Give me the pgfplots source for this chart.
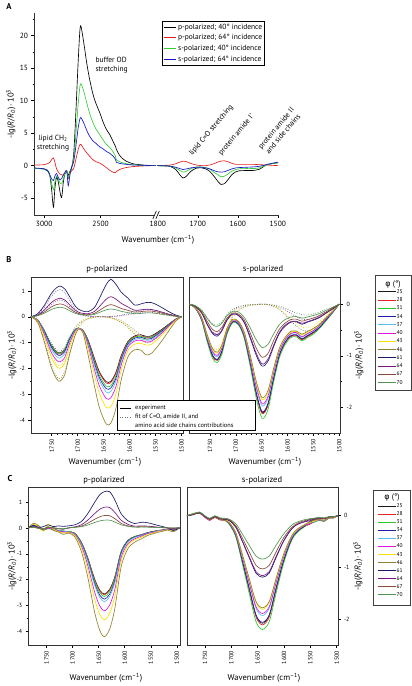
\documentclass[border=0pt]{standalone}
\usepackage{pgfplots}
\pgfplotsset{compat=1.18}
\usepackage{pgfplotstable}
\usepackage{fontspec}
\setmainfont{PT Sans}
\newfontfamily\grk{DejaVu Sans}

\definecolor{c25}{RGB}{25,25,25}
\definecolor{c28}{RGB}{230,35,35}
\definecolor{c31}{RGB}{40,200,40}
\definecolor{c34}{RGB}{30,30,170}
\definecolor{c37}{RGB}{90,190,240}
\definecolor{c40}{RGB}{225,20,225}
\definecolor{c43}{RGB}{250,225,0}
\definecolor{c46}{RGB}{145,130,45}
\definecolor{c61}{RGB}{25,25,105}
\definecolor{c64}{RGB}{120,20,130}
\definecolor{c67}{RGB}{135,75,55}
\definecolor{c70}{RGB}{80,150,80}
\definecolor{aR}{RGB}{225,30,30}
\definecolor{aG}{RGB}{50,205,50}
\definecolor{aB}{RGB}{20,20,200}

% Panel A, left segment
\pgfplotstableread{
wn bk rd gr bl
3088 -0.40 0.10 -0.40 -0.35
3050 -0.45 0.10 -0.45 -0.40
3000 -0.50 0.15 -0.55 -0.50
2970 -0.70 0.30 -0.80 -0.80
2950 -1.50 0.50 -1.50 -1.40
2935 -3.50 0.90 -2.60 -2.00
2918 -6.40 1.20 -3.70 -2.30
2905 -3.50 0.50 -2.50 -1.60
2890 -1.80 -0.50 -1.60 -1.20
2875 -2.50 -1.00 -2.00 -1.80
2860 -4.00 -1.30 -2.70 -2.20
2845 -4.90 -1.40 -2.80 -2.00
2830 -2.50 -1.50 -2.00 -1.40
2815 -1.20 -1.20 -1.20 -1.00
2800 -0.90 -0.80 -0.80 -0.80
2787 -1.50 -2.00 -1.80 -3.10
2775 -1.00 -1.20 -1.20 -1.80
2765 -0.60 -1.00 -0.60 -0.80
2757 -0.40 -0.80 -0.30 -0.20
2740 1.50 -0.50 1.00 0.50
2728 5.00 0.30 3.00 1.80
2712 11.00 1.50 6.50 4.00
2699 16.00 2.50 9.50 5.80
2685 20.50 3.20 12.00 7.10
2675 21.50 3.30 12.60 7.40
2650 19.00 2.60 11.50 6.60
2625 16.00 2.00 9.80 5.50
2600 13.50 1.50 8.20 4.60
2568 11.00 0.90 6.60 3.80
2540 9.50 0.60 5.60 3.40
2509 8.20 0.40 4.80 2.90
2480 6.80 0.10 4.00 2.60
2450 5.60 -0.30 3.30 2.20
2420 4.80 -0.70 2.80 1.90
2392 3.80 -1.00 2.20 1.50
2370 3.00 -1.10 1.50 1.00
2360 2.50 -0.90 0.90 0.50
2333 1.60 -0.60 0.60 0.35
2300 1.00 -0.40 0.40 0.25
2275 0.70 -0.30 0.30 0.20
2217 0.30 -0.15 0.15 0.10
2129 0.10 -0.05 0.05 0.05
2041 0.00 0.00 0.00 0.00
2010 0.00 0.00 0.00 0.00
}\tAL

% Panel A, right segment
\pgfplotstableread{
wn bk rd gr bl
1802 0 0 0 0
1780 -0.05 0.05 -0.03 -0.02
1768 -0.15 0.10 -0.10 -0.08
1755 -0.60 0.30 -0.35 -0.25
1745 -1.40 0.55 -0.75 -0.45
1737 -1.90 0.70 -1.00 -0.60
1728 -1.60 0.60 -0.85 -0.50
1718 -0.90 0.35 -0.50 -0.35
1704 -0.40 0.10 -0.20 -0.25
1690 -0.35 0.00 -0.20 -0.25
1680 -0.50 0.00 -0.30 -0.35
1670 -0.90 0.10 -0.55 -0.50
1660 -1.60 0.30 -1.00 -0.75
1650 -2.40 0.55 -1.40 -0.95
1642 -2.90 0.70 -1.70 -1.00
1634 -2.80 0.75 -1.65 -0.95
1625 -2.20 0.60 -1.30 -0.75
1615 -1.40 0.35 -0.85 -0.50
1605 -0.95 0.20 -0.60 -0.35
1597 -0.80 0.20 -0.50 -0.30
1580 -0.75 0.20 -0.45 -0.25
1563 -0.75 0.20 -0.45 -0.20
1546 -0.55 0.15 -0.35 -0.10
1529 0.10 0.10 0.10 0.15
1515 0.30 0.05 0.30 0.35
1499 0.45 0.00 0.45 0.55
}\tAR

% Panel B, p-polarized
\pgfplotstableread{
wn a25 a28 a31 a34 a37 a40 a43 a46 a61 a64 a67 a70
1790 0 0 0 0 0 0 0 0 0 0 0 0
1777 -0.13 -0.13 -0.13 -0.14 -0.14 -0.16 -0.18 -0.22 0.12 0.07 0.05 0.04
1764 -0.56 -0.58 -0.57 -0.60 -0.64 -0.70 -0.80 -1.00 0.45 0.27 0.19 0.14
1751 -1.09 -1.13 -1.11 -1.17 -1.25 -1.37 -1.56 -1.95 0.90 0.55 0.38 0.28
1741 -1.35 -1.39 -1.37 -1.44 -1.54 -1.68 -1.92 -2.40 1.12 0.68 0.47 0.35
1734 -1.40 -1.45 -1.42 -1.50 -1.60 -1.75 -2.00 -2.50 1.19 0.72 0.50 0.37
1725 -1.26 -1.30 -1.28 -1.35 -1.44 -1.58 -1.80 -2.25 1.08 0.65 0.45 0.33
1716 -0.85 -0.87 -0.86 -0.90 -0.96 -1.05 -1.20 -1.50 0.80 0.48 0.33 0.24
1706 -0.52 -0.52 -0.52 -0.54 -0.56 -0.60 -0.66 -0.78 0.45 0.27 0.19 0.14
1699 -0.44 -0.44 -0.44 -0.45 -0.45 -0.46 -0.47 -0.50 0.30 0.18 0.13 0.10
1690 -0.52 -0.53 -0.53 -0.54 -0.55 -0.56 -0.58 -0.62 0.22 0.13 0.09 0.07
1680 -0.90 -0.92 -0.95 -0.99 -1.03 -1.12 -1.24 -1.47 0.20 0.12 0.08 0.06
1668 -1.60 -1.64 -1.71 -1.78 -1.86 -2.02 -2.24 -2.65 0.35 0.20 0.13 0.09
1658 -2.14 -2.18 -2.28 -2.37 -2.48 -2.69 -2.98 -3.53 0.72 0.40 0.25 0.17
1645 -2.52 -2.57 -2.69 -2.79 -2.92 -3.17 -3.51 -4.16 1.25 0.68 0.41 0.27
1636 -2.50 -2.55 -2.67 -2.76 -2.89 -3.14 -3.48 -4.12 1.45 0.78 0.47 0.30
1626 -2.14 -2.18 -2.28 -2.37 -2.48 -2.69 -2.98 -3.53 1.25 0.68 0.41 0.27
1616 -1.50 -1.53 -1.60 -1.66 -1.73 -1.86 -2.06 -2.44 0.95 0.52 0.32 0.21
1603 -0.95 -0.98 -1.01 -1.05 -1.10 -1.17 -1.30 -1.55 0.72 0.38 0.25 0.16
1590 -0.74 -0.77 -0.79 -0.83 -0.88 -0.94 -1.06 -1.28 0.45 0.25 0.18 0.12
1578 -0.70 -0.74 -0.76 -0.80 -0.85 -0.91 -1.03 -1.30 0.50 0.27 0.20 0.13
1568 -0.76 -0.80 -0.82 -0.86 -0.91 -0.98 -1.10 -1.48 0.55 0.29 0.22 0.15
1558 -0.74 -0.78 -0.80 -0.84 -0.89 -0.95 -1.07 -1.42 0.55 0.28 0.22 0.15
1546 -0.60 -0.63 -0.65 -0.68 -0.72 -0.77 -0.87 -1.15 0.45 0.23 0.18 0.12
1533 -0.42 -0.44 -0.46 -0.48 -0.51 -0.54 -0.61 -0.80 0.30 0.15 0.12 0.08
1520 -0.22 -0.23 -0.24 -0.25 -0.27 -0.28 -0.32 -0.42 0.15 0.08 0.06 0.04
1510 -0.08 -0.08 -0.09 -0.09 -0.10 -0.10 -0.12 -0.15 0.06 0.03 0.02 0.02
1500 0 0 0 0 0 0 0 0 0 0 0 0
}\tBL

% Panel B, p-polarized fits
\pgfplotstableread{
wn fA fB fC fD fE
1790 0 0 0 0 0
1777 -0.12 -0.17 -0.22 0.09 0.06
1764 -0.52 -0.74 -0.94 0.38 0.24
1751 -1.02 -1.46 -1.84 0.78 0.48
1741 -1.28 -1.83 -2.31 0.99 0.61
1734 -1.33 -1.90 -2.40 1.05 0.65
1725 -1.18 -1.69 -2.13 0.94 0.58
1716 -0.80 -1.14 -1.44 0.64 0.40
1706 -0.45 -0.62 -0.78 0.34 0.21
1699 -0.28 -0.36 -0.45 0.18 0.11
1690 -0.14 -0.17 -0.21 0.08 0.05
1680 -0.06 -0.07 -0.09 0.03 0.02
1668 -0.01 -0.01 -0.02 0.00 0.00
1658 0.00 0.00 0.00 0.00 0.00
1645 -0.01 -0.01 -0.01 0.00 0.00
1636 -0.03 -0.04 -0.05 0.01 0.01
1626 -0.08 -0.10 -0.12 0.03 0.02
1616 -0.16 -0.19 -0.22 0.06 0.04
1603 -0.32 -0.37 -0.42 0.12 0.08
1590 -0.52 -0.60 -0.68 0.19 0.12
1578 -0.70 -0.80 -0.90 0.25 0.16
1568 -0.78 -0.88 -1.00 0.28 0.18
1558 -0.76 -0.86 -0.97 0.27 0.17
1546 -0.62 -0.70 -0.79 0.22 0.14
1533 -0.42 -0.48 -0.54 0.15 0.10
1520 -0.22 -0.25 -0.28 0.08 0.05
1510 -0.08 -0.09 -0.10 0.03 0.02
1500 0 0 0 0 0
}\tBLf

% Panel B, s-polarized
\pgfplotstableread{
wn a25 a28 a31 a34 a37 a40 a43 a46 a61 a64 a67 a70
1790 0 0 0 0 0 0 0 0 0 0 0 0
1778 -0.08 -0.08 -0.08 -0.08 -0.08 -0.07 -0.07 -0.07 -0.05 -0.04 -0.04 -0.03
1766 -0.30 -0.30 -0.32 -0.30 -0.28 -0.28 -0.26 -0.26 -0.17 -0.17 -0.15 -0.12
1755 -0.70 -0.71 -0.74 -0.69 -0.66 -0.64 -0.62 -0.60 -0.40 -0.39 -0.34 -0.28
1745 -1.00 -1.01 -1.05 -0.99 -0.94 -0.92 -0.88 -0.86 -0.57 -0.55 -0.49 -0.40
1736 -1.08 -1.09 -1.13 -1.07 -1.02 -0.99 -0.95 -0.93 -0.62 -0.59 -0.53 -0.43
1727 -0.92 -0.93 -0.97 -0.91 -0.86 -0.85 -0.81 -0.79 -0.52 -0.51 -0.45 -0.37
1717 -0.55 -0.56 -0.58 -0.54 -0.52 -0.51 -0.48 -0.47 -0.31 -0.30 -0.27 -0.22
1706 -0.34 -0.34 -0.36 -0.34 -0.32 -0.31 -0.30 -0.29 -0.19 -0.19 -0.17 -0.14
1695 -0.38 -0.38 -0.40 -0.38 -0.36 -0.35 -0.33 -0.33 -0.22 -0.21 -0.19 -0.15
1684 -0.62 -0.63 -0.65 -0.61 -0.58 -0.57 -0.55 -0.53 -0.35 -0.34 -0.30 -0.25
1672 -1.15 -1.16 -1.21 -1.14 -1.08 -1.06 -1.01 -0.99 -0.66 -0.63 -0.56 -0.46
1660 -1.75 -1.77 -1.84 -1.73 -1.65 -1.61 -1.54 -1.51 -1.00 -0.96 -0.86 -0.70
1649 -2.10 -2.12 -2.21 -2.08 -1.97 -1.93 -1.85 -1.81 -1.20 -1.16 -1.03 -0.84
1638 -1.95 -1.97 -2.05 -1.93 -1.83 -1.79 -1.72 -1.68 -1.11 -1.07 -0.96 -0.78
1627 -1.45 -1.46 -1.52 -1.44 -1.36 -1.33 -1.28 -1.25 -0.83 -0.80 -0.71 -0.58
1616 -1.00 -1.01 -1.05 -0.99 -0.94 -0.92 -0.88 -0.86 -0.57 -0.55 -0.49 -0.40
1605 -0.75 -0.76 -0.79 -0.74 -0.71 -0.69 -0.66 -0.65 -0.43 -0.41 -0.37 -0.30
1594 -0.62 -0.63 -0.65 -0.61 -0.58 -0.57 -0.55 -0.53 -0.35 -0.34 -0.30 -0.25
1583 -0.60 -0.61 -0.63 -0.59 -0.56 -0.55 -0.53 -0.52 -0.34 -0.33 -0.29 -0.24
1572 -0.68 -0.69 -0.71 -0.67 -0.64 -0.63 -0.60 -0.58 -0.39 -0.37 -0.33 -0.27
1562 -0.62 -0.63 -0.65 -0.61 -0.58 -0.57 -0.55 -0.53 -0.35 -0.34 -0.30 -0.25
1550 -0.55 -0.56 -0.58 -0.54 -0.52 -0.51 -0.48 -0.47 -0.31 -0.30 -0.27 -0.22
1538 -0.45 -0.45 -0.47 -0.45 -0.42 -0.41 -0.40 -0.39 -0.26 -0.25 -0.22 -0.18
1525 -0.30 -0.30 -0.32 -0.30 -0.28 -0.28 -0.26 -0.26 -0.17 -0.17 -0.15 -0.12
1512 -0.15 -0.15 -0.16 -0.15 -0.14 -0.14 -0.13 -0.13 -0.09 -0.08 -0.07 -0.06
1500 0 0 0 0 0 0 0 0 0 0 0 0
}\tBR

% Panel B, s-polarized fits
\pgfplotstableread{
wn fA fB fC fD
1790 0 0 0 0
1778 -0.08 -0.07 -0.05 -0.03
1766 -0.30 -0.26 -0.17 -0.12
1755 -0.68 -0.60 -0.39 -0.27
1745 -0.95 -0.84 -0.54 -0.38
1736 -1.00 -0.88 -0.57 -0.40
1727 -0.85 -0.75 -0.48 -0.34
1717 -0.50 -0.44 -0.29 -0.20
1706 -0.25 -0.22 -0.14 -0.10
1695 -0.12 -0.11 -0.07 -0.05
1684 -0.06 -0.05 -0.03 -0.02
1672 -0.02 -0.02 -0.01 -0.01
1660 -0.01 -0.01 -0.01 0.00
1649 0.00 0.00 0.00 0.00
1638 -0.01 -0.01 -0.01 0.00
1627 -0.04 -0.04 -0.02 -0.02
1616 -0.10 -0.09 -0.06 -0.04
1605 -0.20 -0.18 -0.11 -0.08
1594 -0.32 -0.28 -0.18 -0.13
1583 -0.42 -0.37 -0.24 -0.17
1572 -0.50 -0.44 -0.29 -0.20
1562 -0.52 -0.46 -0.30 -0.21
1550 -0.48 -0.42 -0.27 -0.19
1538 -0.38 -0.33 -0.22 -0.15
1525 -0.25 -0.22 -0.14 -0.10
1512 -0.12 -0.11 -0.07 -0.05
1500 0 0 0 0
}\tBRf

% Panel C, p-polarized
\pgfplotstableread{
wn a25 a28 a31 a34 a37 a40 a43 a46 a61 a64 a67 a70
1785 0 0 0 0 0 0 0 0 0 0 0 0
1775 0.08 0.10 0.05 0.12 0.06 0.09 0.14 0.18 0.10 0.05 0.03 0.02
1766 0.04 0.06 0.10 0.02 0.08 0.03 0.05 0.10 0.02 0.00 -0.02 -0.01
1756 -0.06 -0.05 -0.08 -0.10 -0.04 -0.07 -0.12 -0.08 0.05 -0.03 -0.04 -0.03
1747 0.02 0.00 -0.03 0.04 0.01 -0.02 0.15 0.05 0.12 0.02 0.02 0.01
1737 -0.08 -0.05 -0.06 -0.04 -0.07 -0.03 -0.05 -0.10 0.05 0.00 0.01 0.00
1728 -0.10 -0.12 -0.08 -0.10 -0.09 -0.11 -0.13 -0.15 0.08 -0.02 -0.03 -0.02
1718 -0.12 -0.15 -0.12 -0.14 -0.13 -0.16 -0.20 -0.25 0.06 -0.05 -0.04 -0.03
1708 -0.15 -0.15 -0.14 -0.16 -0.15 -0.16 -0.18 -0.20 0.08 0.00 0.00 0.00
1696 -0.20 -0.21 -0.21 -0.22 -0.23 -0.26 -0.28 -0.34 0.12 0.04 0.03 0.02
1683 -0.56 -0.57 -0.58 -0.61 -0.63 -0.70 -0.78 -0.92 0.25 0.12 0.07 0.05
1671 -1.15 -1.16 -1.19 -1.24 -1.28 -1.44 -1.60 -1.89 0.55 0.30 0.18 0.11
1658 -1.96 -1.99 -2.04 -2.12 -2.19 -2.46 -2.73 -3.23 0.98 0.55 0.33 0.21
1648 -2.40 -2.43 -2.49 -2.59 -2.68 -3.01 -3.34 -3.95 1.28 0.72 0.43 0.27
1639 -2.55 -2.58 -2.65 -2.75 -2.85 -3.20 -3.55 -4.20 1.40 0.80 0.48 0.30
1629 -2.37 -2.40 -2.46 -2.56 -2.65 -2.98 -3.30 -3.91 1.40 0.79 0.47 0.30
1619 -1.89 -1.91 -1.96 -2.04 -2.11 -2.37 -2.63 -3.11 1.08 0.60 0.36 0.23
1607 -0.92 -0.93 -0.95 -0.99 -1.03 -1.15 -1.28 -1.51 0.55 0.30 0.18 0.12
1594 -0.48 -0.49 -0.50 -0.52 -0.54 -0.61 -0.67 -0.80 0.28 0.14 0.08 0.06
1581 -0.33 -0.34 -0.34 -0.36 -0.37 -0.42 -0.46 -0.55 0.17 0.07 0.04 0.03
1568 -0.26 -0.26 -0.27 -0.28 -0.29 -0.32 -0.36 -0.42 0.22 0.08 0.05 0.03
1556 -0.18 -0.18 -0.19 -0.19 -0.20 -0.22 -0.25 -0.29 0.20 0.07 0.04 0.03
1546 -0.14 -0.14 -0.15 -0.15 -0.16 -0.18 -0.20 -0.23 0.15 0.05 0.03 0.02
1537 -0.10 -0.10 -0.11 -0.11 -0.11 -0.13 -0.14 -0.17 0.10 0.03 0.02 0.02
1527 -0.08 -0.08 -0.08 -0.08 -0.09 -0.10 -0.11 -0.13 0.05 0.02 0.01 0.01
1518 -0.05 -0.05 -0.05 -0.06 -0.06 -0.06 -0.07 -0.08 0.00 0.00 0.00 0.00
1507 -0.03 -0.05 -0.03 -0.08 -0.03 -0.03 -0.10 -0.15 -0.10 -0.02 0.00 0.00
1495 0 0 0 0 0 0 0 0 0 0 0 0
}\tCL

% Panel C, s-polarized
\pgfplotstableread{
wn a25 a28 a31 a34 a37 a40 a43 a46 a61 a64 a67 a70
1784 0 0 0 0 0 0 0 0 0 0 0 0
1772 0.03 0.03 0.04 0.02 0.03 0.03 0.04 0.03 0.03 0.02 0.03 0.04
1760 0.06 0.05 0.06 0.07 0.06 0.05 0.06 0.06 0.05 0.06 0.05 0.07
1750 -0.02 -0.03 -0.02 -0.01 -0.02 -0.03 -0.02 -0.02 -0.01 -0.02 -0.01 0.00
1741 -0.08 -0.09 -0.08 -0.07 -0.08 -0.09 -0.08 -0.08 -0.06 -0.07 -0.06 -0.05
1731 -0.02 -0.03 -0.02 -0.02 -0.02 -0.03 -0.02 -0.03 -0.01 -0.02 -0.01 0.00
1722 -0.07 -0.08 -0.07 -0.07 -0.07 -0.08 -0.07 -0.08 -0.06 -0.06 -0.05 -0.04
1712 -0.08 -0.09 -0.09 -0.08 -0.08 -0.09 -0.08 -0.09 -0.07 -0.07 -0.06 -0.05
1703 -0.17 -0.17 -0.18 -0.16 -0.15 -0.15 -0.14 -0.14 -0.10 -0.09 -0.08 -0.07
1691 -0.40 -0.40 -0.42 -0.39 -0.37 -0.36 -0.34 -0.34 -0.23 -0.22 -0.20 -0.16
1678 -0.92 -0.93 -0.97 -0.91 -0.85 -0.83 -0.80 -0.78 -0.52 -0.51 -0.45 -0.37
1666 -1.41 -1.43 -1.50 -1.40 -1.31 -1.29 -1.23 -1.21 -0.81 -0.79 -0.70 -0.57
1653 -1.93 -1.96 -2.05 -1.92 -1.79 -1.76 -1.68 -1.66 -1.11 -1.08 -0.96 -0.78
1641 -2.08 -2.11 -2.20 -2.06 -1.93 -1.89 -1.81 -1.78 -1.19 -1.16 -1.03 -0.84
1628 -1.93 -1.96 -2.05 -1.92 -1.79 -1.76 -1.68 -1.66 -1.11 -1.08 -0.96 -0.78
1615 -1.41 -1.43 -1.50 -1.40 -1.31 -1.29 -1.23 -1.21 -0.81 -0.79 -0.70 -0.57
1602 -0.92 -0.93 -0.97 -0.91 -0.85 -0.83 -0.80 -0.78 -0.52 -0.51 -0.45 -0.37
1590 -0.56 -0.57 -0.59 -0.56 -0.52 -0.51 -0.49 -0.48 -0.32 -0.31 -0.28 -0.23
1581 -0.37 -0.38 -0.40 -0.37 -0.35 -0.34 -0.33 -0.32 -0.21 -0.21 -0.19 -0.15
1571 -0.27 -0.27 -0.29 -0.27 -0.25 -0.25 -0.24 -0.23 -0.15 -0.15 -0.13 -0.11
1562 -0.21 -0.21 -0.22 -0.21 -0.19 -0.19 -0.18 -0.18 -0.12 -0.12 -0.10 -0.08
1552 -0.15 -0.17 -0.15 -0.12 -0.14 -0.16 -0.13 -0.12 -0.08 -0.10 -0.07 -0.06
1543 -0.08 -0.12 -0.13 -0.06 -0.12 -0.11 -0.11 -0.09 -0.05 -0.07 -0.06 -0.05
1533 -0.08 -0.08 -0.09 -0.08 -0.08 -0.08 -0.07 -0.07 -0.05 -0.05 -0.04 -0.03
1524 -0.10 -0.11 -0.11 -0.10 -0.10 -0.09 -0.09 -0.09 -0.06 -0.06 -0.05 -0.04
1514 -0.04 -0.04 -0.04 -0.04 -0.04 -0.04 -0.04 -0.04 -0.02 -0.02 -0.02 -0.02
1506 -0.04 -0.04 -0.04 -0.04 -0.04 -0.04 -0.04 -0.04 -0.02 -0.02 -0.02 -0.02
1498 0 0 0 0 0 0 0 0 0 0 0 0
}\tCR

\pgfplotsset{
  base/.style={scale only axis, tick align=outside, major tick length=2.5pt, minor tick length=1.4pt,
    every tick/.style={black, line width=0.5pt}, axis line style={line width=0.7pt, black!80},
    /pgf/number format/assume math mode=true, /pgf/number format/1000 sep={}},
  bc/.style={base, x dir=reverse, xtick={1500,1550,...,1750}, minor x tick num=4, xtick pos=left,
    xticklabel style={rotate=90, anchor=east, font=\fontsize{6}{6}\selectfont},
    yticklabel style={font=\fontsize{6}{6}\selectfont}, minor y tick num=1},
  ln/.style={smooth, tension=0.5, line width=0.65pt},
  ft/.style={smooth, tension=0.5, line width=0.8pt, dash pattern=on 0.7pt off 1.7pt, forget plot},
}
\newcommand{\ylab}{-lg(\textit{R}/\textit{R}\textsubscript{\textit{0}})\,·\,10\textsuperscript{3}}
\newcommand{\xlab}{Wavenumber (cm\textsuperscript{--1})}

\begin{document}
\begin{tikzpicture}
\useasboundingbox (0,0) rectangle (412pt,-686pt);

% ================= Panel A =================
\begin{axis}[base, at={(34pt,-13pt)}, anchor=north west, width=122pt, height=202pt,
  xmin=2010, xmax=3090, x dir=reverse, ymin=-7.6, ymax=23.5,
  axis x line*=bottom, axis y line*=left,
  xtick={2500,3000}, minor xtick={2250,2750}, ytick={-5,0,5,10,15,20},
  minor ytick={-2.5,2.5,7.5,12.5,17.5,22.5},
  tick label style={font=\fontsize{7.5}{8}\selectfont}]
\addplot[ln, black] table[x=wn,y=bk] {\tAL};
\addplot[ln, aR] table[x=wn,y=rd] {\tAL};
\addplot[ln, aG] table[x=wn,y=gr] {\tAL};
\addplot[ln, aB] table[x=wn,y=bl] {\tAL};
\end{axis}
\begin{axis}[base, at={(157pt,-13pt)}, anchor=north west, width=122pt, height=202pt,
  xmin=1497, xmax=1802, x dir=reverse, ymin=-7.6, ymax=23.5,
  axis x line*=bottom, axis y line=none, ytick=\empty,
  xtick={1500,1600,1700,1800}, minor xtick={1550,1650,1750},
  tick label style={font=\fontsize{7.5}{8}\selectfont},
  legend style={at={(0.041,0.962)}, anchor=north west, draw=black, line width=0.6pt,
    font=\fontsize{7.5}{8}\selectfont, inner sep=1pt, row sep=0.5pt,
    nodes={inner sep=1.5pt, text height=5.6pt, text depth=1.6pt}},
  legend cell align=left,
  legend image code/.code={\draw[#1, sharp plot, line width=0.8pt] (0pt,0pt) -- (12.5pt,0pt);}]
\addplot[ln, black] table[x=wn,y=bk] {\tAR};
\addplot[ln, aR] table[x=wn,y=rd] {\tAR};
\addplot[ln, aG] table[x=wn,y=gr] {\tAR};
\addplot[ln, aB] table[x=wn,y=bl] {\tAR};
\legend{p-polarized; 40° incidence, p-polarized; 64° incidence, s-polarized; 40° incidence, s-polarized; 64° incidence}
\end{axis}
% axis break
\fill[white] (154.3pt,-213pt) rectangle (158.7pt,-217.5pt);
\draw[line width=0.6pt] (152.8pt,-219pt) -- (156.3pt,-211pt);
\draw[line width=0.6pt] (155.8pt,-219pt) -- (159.3pt,-211pt);

\node[font=\bfseries\fontsize{8.5}{9}\selectfont] at (9pt,-7pt) {A};
\node[rotate=90, font=\fontsize{8.5}{9}\selectfont] at (11pt,-114pt) {\ylab};
\node[font=\fontsize{8.5}{9}\selectfont] at (158pt,-240pt) {\xlab};
\node[align=center, font=\fontsize{7.5}{8.5}\selectfont] at (53pt,-143pt) {lipid CH\textsubscript{2}\\stretching};
\node[align=left, anchor=west, font=\fontsize{7.5}{9.5}\selectfont] at (92pt,-65pt) {buffer OD\\stretching};
\node[rotate=50, font=\fontsize{7.5}{8}\selectfont] at (211.3pt,-130.3pt) {lipid C=O stretching};
\node[rotate=50, font=\fontsize{7.5}{8}\selectfont] at (236.5pt,-134.7pt) {protein amide I\kern0.3pt'};
\node[rotate=50, align=center, font=\fontsize{7.5}{9}\selectfont] at (279.5pt,-131pt) {protein amide II\\and side chains};

% ================= Panel B =================
\begin{axis}[bc, at={(31pt,-277.3pt)}, anchor=north west, width=152pt, height=156pt,
  xmin=1497, xmax=1790, ymin=-4.52, ymax=1.53, ytick={-4,-3,-2,-1,0,1}, ytick pos=left]
\addplot[ft, black!55] table[x=wn,y=fA] {\tBLf};
\addplot[ft, c43] table[x=wn,y=fB] {\tBLf};
\addplot[ft, c46] table[x=wn,y=fC] {\tBLf};
\addplot[ft, c61!75] table[x=wn,y=fD] {\tBLf};
\addplot[ft, c64!75] table[x=wn,y=fE] {\tBLf};
\addplot[ln, c25] table[x=wn,y=a25] {\tBL};
\addplot[ln, c28] table[x=wn,y=a28] {\tBL};
\addplot[ln, c31] table[x=wn,y=a31] {\tBL};
\addplot[ln, c34] table[x=wn,y=a34] {\tBL};
\addplot[ln, c37] table[x=wn,y=a37] {\tBL};
\addplot[ln, c40] table[x=wn,y=a40] {\tBL};
\addplot[ln, c43] table[x=wn,y=a43] {\tBL};
\addplot[ln, c46] table[x=wn,y=a46] {\tBL};
\addplot[ln, c61] table[x=wn,y=a61] {\tBL};
\addplot[ln, c64] table[x=wn,y=a64] {\tBL};
\addplot[ln, c67] table[x=wn,y=a67] {\tBL};
\addplot[ln, c70] table[x=wn,y=a70] {\tBL};
\end{axis}
\begin{axis}[bc, at={(189.3pt,-277.3pt)}, anchor=north west, width=151.4pt, height=156pt,
  xmin=1497, xmax=1790, ymin=-2.5, ymax=0.52, ytick={-2,-1,0}, ytick pos=right, yticklabel pos=right,
  legend style={at={(1.243,0.928)}, anchor=north west, draw=none, fill=none, inner sep=0pt,
    font=\fontsize{5.5}{6}\selectfont, row sep=2.27pt,
    nodes={inner sep=0.6pt, text height=3.9pt, text depth=0.9pt}},
  legend cell align=right,
  legend image code/.code={\draw[#1, sharp plot, line width=0.9pt] (0pt,0pt) -- (17.5pt,0pt);}]
\addplot[ft, black!55] table[x=wn,y=fA] {\tBRf};
\addplot[ft, c43] table[x=wn,y=fB] {\tBRf};
\addplot[ft, c64!75] table[x=wn,y=fC] {\tBRf};
\addplot[ft, c70] table[x=wn,y=fD] {\tBRf};
\addplot[ln, c25] table[x=wn,y=a25] {\tBR};
\addplot[ln, c28] table[x=wn,y=a28] {\tBR};
\addplot[ln, c31] table[x=wn,y=a31] {\tBR};
\addplot[ln, c34] table[x=wn,y=a34] {\tBR};
\addplot[ln, c37] table[x=wn,y=a37] {\tBR};
\addplot[ln, c40] table[x=wn,y=a40] {\tBR};
\addplot[ln, c43] table[x=wn,y=a43] {\tBR};
\addplot[ln, c46] table[x=wn,y=a46] {\tBR};
\addplot[ln, c61] table[x=wn,y=a61] {\tBR};
\addplot[ln, c64] table[x=wn,y=a64] {\tBR};
\addplot[ln, c67] table[x=wn,y=a67] {\tBR};
\addplot[ln, c70] table[x=wn,y=a70] {\tBR};
\legend{25,28,31,34,37,40,43,46,61,64,67,70}
\end{axis}
\node[font=\bfseries\fontsize{8.5}{9}\selectfont] at (9pt,-260pt) {B};
\node[font=\fontsize{8.5}{9}\selectfont] at (107pt,-269pt) {p-polarized};
\node[font=\fontsize{8.5}{9}\selectfont] at (263pt,-269pt) {s-polarized};
\node[rotate=90, font=\fontsize{8.5}{9}\selectfont] at (12pt,-355pt) {\ylab};
\node[rotate=90, font=\fontsize{8.5}{9}\selectfont] at (359pt,-355pt) {\ylab};
\node[font=\fontsize{8.5}{9}\selectfont] at (105pt,-462pt) {\xlab};
\node[font=\fontsize{8.5}{9}\selectfont] at (265pt,-462pt) {\xlab};
\draw[line width=0.9pt, black!75] (375pt,-275.3pt) rectangle (411pt,-390.3pt);
\node[font=\fontsize{8}{9}\selectfont] at (393pt,-284.5pt) {{\grk φ} (°)};
% inner legend
\draw[fill=white, line width=0.6pt] (117pt,-400pt) rectangle (255pt,-430pt);
\draw[line width=0.8pt] (120pt,-408pt) -- (131pt,-408pt);
\draw[line width=0.8pt, black!55, dash pattern=on 0.7pt off 1.7pt] (120pt,-417pt) -- (131pt,-417pt);
\node[anchor=west, font=\fontsize{6.3}{7}\selectfont, inner sep=0pt] at (135pt,-408pt) {experiment};
\node[anchor=west, font=\fontsize{6.3}{7}\selectfont, inner sep=0pt] at (135pt,-417pt) {fit of C=O, amide II, and};
\node[anchor=west, font=\fontsize{6.3}{7}\selectfont, inner sep=0pt] at (135pt,-425pt) {amino acid side chains contributions};

% ================= Panel C =================
\begin{axis}[bc, at={(28.3pt,-487pt)}, anchor=north west, width=151.7pt, height=158pt,
  xmin=1494, xmax=1785, ymin=-4.52, ymax=1.58, ytick={-4,-3,-2,-1,0,1}, ytick pos=left]
\addplot[ln, c25] table[x=wn,y=a25] {\tCL};
\addplot[ln, c28] table[x=wn,y=a28] {\tCL};
\addplot[ln, c31] table[x=wn,y=a31] {\tCL};
\addplot[ln, c34] table[x=wn,y=a34] {\tCL};
\addplot[ln, c37] table[x=wn,y=a37] {\tCL};
\addplot[ln, c40] table[x=wn,y=a40] {\tCL};
\addplot[ln, c43] table[x=wn,y=a43] {\tCL};
\addplot[ln, c46] table[x=wn,y=a46] {\tCL};
\addplot[ln, c61] table[x=wn,y=a61] {\tCL};
\addplot[ln, c64] table[x=wn,y=a64] {\tCL};
\addplot[ln, c67] table[x=wn,y=a67] {\tCL};
\addplot[ln, c70] table[x=wn,y=a70] {\tCL};
\end{axis}
\begin{axis}[bc, at={(187pt,-487pt)}, anchor=north west, width=151pt, height=158pt,
  xmin=1497.5, xmax=1784, ymin=-2.5, ymax=0.555, ytick={-2,-1,0}, ytick pos=right, yticklabel pos=right,
  legend style={at={(1.261,0.899)}, anchor=north west, draw=none, fill=none, inner sep=0pt,
    font=\fontsize{5.5}{6}\selectfont, row sep=2.06pt,
    nodes={inner sep=0.6pt, text height=3.9pt, text depth=0.9pt}},
  legend cell align=right,
  legend image code/.code={\draw[#1, sharp plot, line width=0.9pt] (0pt,0pt) -- (17.5pt,0pt);}]
\addplot[ln, c25] table[x=wn,y=a25] {\tCR};
\addplot[ln, c28] table[x=wn,y=a28] {\tCR};
\addplot[ln, c31] table[x=wn,y=a31] {\tCR};
\addplot[ln, c34] table[x=wn,y=a34] {\tCR};
\addplot[ln, c37] table[x=wn,y=a37] {\tCR};
\addplot[ln, c40] table[x=wn,y=a40] {\tCR};
\addplot[ln, c43] table[x=wn,y=a43] {\tCR};
\addplot[ln, c46] table[x=wn,y=a46] {\tCR};
\addplot[ln, c61] table[x=wn,y=a61] {\tCR};
\addplot[ln, c64] table[x=wn,y=a64] {\tCR};
\addplot[ln, c67] table[x=wn,y=a67] {\tCR};
\addplot[ln, c70] table[x=wn,y=a70] {\tCR};
\legend{25,28,31,34,37,40,43,46,61,64,67,70}
\end{axis}
\node[font=\bfseries\fontsize{8.5}{9}\selectfont] at (10pt,-479pt) {C};
\node[font=\fontsize{8.5}{9}\selectfont] at (104pt,-480pt) {p-polarized};
\node[font=\fontsize{8.5}{9}\selectfont] at (262pt,-480pt) {s-polarized};
\node[rotate=90, font=\fontsize{8.5}{9}\selectfont] at (12pt,-566pt) {\ylab};
\node[rotate=90, font=\fontsize{8.5}{9}\selectfont] at (358pt,-566pt) {\ylab};
\node[font=\fontsize{8.5}{9}\selectfont] at (106pt,-678pt) {\xlab};
\node[font=\fontsize{8.5}{9}\selectfont] at (264pt,-678pt) {\xlab};
\draw[line width=0.9pt, black!75] (373.7pt,-490.3pt) rectangle (410.3pt,-605.7pt);
\node[font=\fontsize{8}{9}\selectfont] at (392pt,-498pt) {{\grk φ} (°)};
\end{tikzpicture}
\end{document}
